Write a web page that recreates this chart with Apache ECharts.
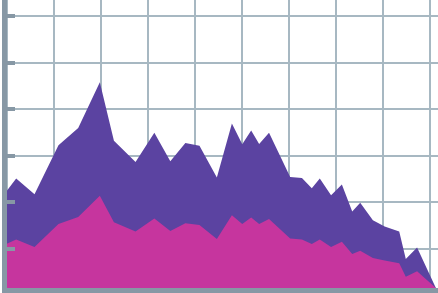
<!DOCTYPE html>
<html>
<head>
<meta charset="utf-8">
<script src="https://cdn.jsdelivr.net/npm/echarts@6/dist/echarts.min.js"></script>
<style>
html,body{margin:0;padding:0;background:#ffffff;}
#chart{width:438px;height:293px;}
</style>
</head>
<body>
<div id="chart"></div>
<script>
// Data
const xValues = [0, 2.1, 6.0, 11.1, 15.3, 19.9, 22.9, 27.5, 31.5, 34.9, 38.1, 41.1, 44.8, 48.0, 50.2, 52.1, 53.8, 55.9, 60.4, 62.9, 65.0, 66.7, 69.1, 71.4, 73.6, 75.3, 78.0, 80.5, 83.6, 85.0, 87.4, 91.4];
const pinkValues = [11.0, 12.0, 10.4, 15.3, 16.8, 21.4, 15.7, 13.7, 16.5, 13.8, 15.5, 15.1, 12.1, 17.2, 15.3, 16.7, 15.3, 16.4, 12.2, 12.0, 11.0, 12.0, 10.4, 11.5, 8.9, 9.6, 8.0, 7.5, 6.9, 4.0, 5.2, 1.6];
const purpleValues = [11.3, 13.1, 11.3, 16.9, 19.1, 24.3, 17.5, 14.9, 18.4, 15.0, 17.2, 17.0, 13.2, 19.7, 17.1, 18.7, 17.2, 18.5, 13.2, 13.2, 12.0, 13.1, 11.1, 12.3, 9.1, 10.3, 8.1, 7.3, 6.8, 3.8, 5.1, 0];

const X_MIN = 0, X_MAX = 100, X_STEP = 10;
const Y_MIN = 0, Y_MAX = 70, Y_STEP = 10;

const AXIS_COLOR = '#8798a5';
const GRID_COLOR = '#a7b8c2';

// stacked top of the purple layer = pink + purple
const stackedTop = pinkValues.map((v, i) => +(v + purpleValues[i]).toFixed(2));
const pair = (vals) => xValues.map((x, i) => [x, vals[i]]);

const chart = echarts.init(document.getElementById('chart'), null, {renderer: 'canvas'});
chart.setOption({
  animation: false,
  backgroundColor: '#ffffff',
  grid: {left: 6.3, top: -30.9, width: 470, bottom: -2.4, containLabel: false, outerBoundsMode: 'none'},
  xAxis: [
    {
      type: 'value', min: X_MIN, max: X_MAX, interval: X_STEP, z: 0,
      axisLine: {show: false}, axisTick: {show: false}, axisLabel: {show: false},
      splitLine: {show: true, lineStyle: {color: GRID_COLOR, width: 2}}
    },
    {
      type: 'value', min: X_MIN, max: X_MAX, interval: X_STEP, z: 10, position: 'bottom', offset: -4.9,
      axisLine: {show: true, onZero: false, lineStyle: {color: AXIS_COLOR, width: 5}},
      axisTick: {show: false}, axisLabel: {show: false}, splitLine: {show: false}
    }
  ],
  yAxis: [
    {
      type: 'value', min: Y_MIN, max: Y_MAX, interval: Y_STEP, z: 0,
      axisLine: {show: false}, axisTick: {show: false}, axisLabel: {show: false},
      splitLine: {show: true, lineStyle: {color: GRID_COLOR, width: 2}}
    },
    {
      type: 'value', min: Y_MIN, max: Y_MAX, interval: Y_STEP, z: 10, position: 'left', offset: 1.8,
      axisLine: {show: true, onZero: false, lineStyle: {color: AXIS_COLOR, width: 5}},
      axisTick: {show: true, inside: true, length: 10.5, lineStyle: {color: AXIS_COLOR, width: 4}},
      axisLabel: {show: false}, splitLine: {show: false}
    }
  ],
  series: [
    {
      name: 'purple', type: 'line', xAxisIndex: 0, yAxisIndex: 0,
      data: pair(stackedTop), symbol: 'none', smooth: false, z: 2,
      lineStyle: {width: 0}, areaStyle: {color: '#5b43a1', opacity: 1}, color: '#5b43a1'
    },
    {
      name: 'pink', type: 'line', xAxisIndex: 0, yAxisIndex: 0,
      data: pair(pinkValues), symbol: 'none', smooth: false, z: 3,
      lineStyle: {width: 0}, areaStyle: {color: '#c6359e', opacity: 1}, color: '#c6359e'
    }
  ]
});
</script>
</body>
</html>
